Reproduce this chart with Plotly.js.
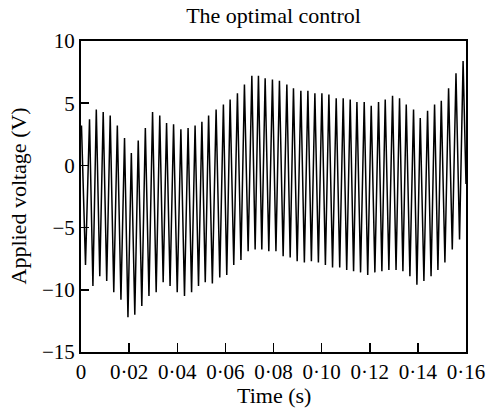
<!DOCTYPE html>
<html>
<head>
<meta charset="utf-8">
<script src="https://cdn.plot.ly/plotly-3.0.1.min.js"></script>
<style>html,body{margin:0;padding:0;background:#fff;}#chart{width:486px;height:408px;}</style>
</head>
<body>
<div id="chart"></div>
<script>
// Peak times (s) and values (V)
const peakTimes = [0.0002,0.00354,0.00636,0.00923,0.01214,0.01510,0.01809,0.02092,0.02379,0.02674,
  0.02974,0.03273,0.03556,0.03847,0.04151,0.04450,0.04741,0.05024,0.05303,0.05615,
  0.05918,0.06197,0.06501,0.06792,0.07100,0.07374,0.07653,0.07956,0.08247,0.08555,
  0.08830,0.09137,0.09429,0.09720,0.10011,0.10302,0.10606,0.10897,0.11188,0.11467,
  0.11770,0.12061,0.12365,0.12643,0.12947,0.13238,0.13517,0.13820,0.14099,0.14403,
  0.14694,0.14973,0.15276,0.15584,0.15879];
const peakValues = [3.2,3.7,4.5,4.3,4.0,3.2,2.2,1.0,2.0,3.0,
  4.3,4.0,3.4,3.3,2.9,3.0,3.2,3.5,4.0,4.5,
  4.9,5.3,5.8,6.5,7.2,7.2,7.0,6.9,6.8,6.5,
  6.2,6.0,6.0,5.8,5.8,5.7,5.4,5.4,5.3,5.1,
  5.1,4.8,5.1,5.3,5.6,5.4,4.9,4.5,3.8,4.4,
  4.9,5.2,6.2,7.4,8.4];
// Trough times (s) and values (V)
const troughTimes = [0.00187,0.00495,0.00780,0.01069,0.01362,0.01660,0.01951,0.02236,0.02527,0.02824,
  0.03124,0.03415,0.03702,0.03999,0.04301,0.04596,0.04883,0.05164,0.05459,0.05767,
  0.06058,0.06349,0.06647,0.06946,0.07237,0.07514,0.07805,0.08102,0.08401,0.08693,
  0.08984,0.09283,0.09575,0.09866,0.10157,0.10454,0.10752,0.11043,0.11328,0.11618,
  0.11916,0.12213,0.12504,0.12795,0.13093,0.13378,0.13669,0.13960,0.14251,0.14548,
  0.14833,0.15124,0.15430,0.15732];
const troughValues = [-8.0,-9.7,-8.9,-9.3,-10.2,-10.8,-12.2,-12.0,-11.3,-10.5,
  -10.2,-9.4,-9.7,-10.2,-10.5,-10.2,-9.7,-9.4,-9.5,-9.0,
  -8.8,-8.0,-7.6,-6.9,-6.75,-6.75,-6.9,-6.9,-7.3,-7.4,
  -7.7,-7.8,-7.7,-7.8,-8.0,-8.2,-8.2,-8.4,-8.5,-8.6,
  -8.8,-8.6,-8.5,-8.4,-8.4,-8.5,-8.9,-9.6,-9.3,-8.9,
  -8.4,-7.8,-6.75,-5.95];
const startPoint = {t: 0, v: 3.0};
const endPoint = {t: 0.16, v: -1.5};

const xTickVals = [0,0.02,0.04,0.06,0.08,0.10,0.12,0.14,0.16];
const xTickText = ['0','0·02','0·04','0·06','0·08','0·10','0·12','0·14','0·16'];
const yTickVals = [10,5,0,-5,-10,-15];
const yTickText = ['10','5','0','\u22125','\u221210','\u221215'];

// merge peaks & troughs in time order
const pts = [[startPoint.t, startPoint.v]];
for (let i = 0; i < peakTimes.length; i++) {
  pts.push([peakTimes[i], peakValues[i]]);
  if (i < troughTimes.length) pts.push([troughTimes[i], troughValues[i]]);
}
pts.push([endPoint.t, endPoint.v]);
pts.sort((a,b)=>a[0]-b[0]);

const fam = '"Liberation Serif", "Times New Roman", serif';
const f = s => ({family: fam, size: s, color: '#000'});

Plotly.newPlot('chart', [{
  x: pts.map(p=>p[0]), y: pts.map(p=>p[1]),
  type: 'scatter', mode: 'lines',
  line: {color: '#000', width: 1.5},
  hoverinfo: 'skip'
}], {
  width: 486, height: 408,
  margin: {l: 81, r: 20, t: 41, b: 56},
  paper_bgcolor: '#fff', plot_bgcolor: '#fff',
  showlegend: false,
  title: {text: 'The optimal control', font: f(22), x: 0.5, xanchor: 'center', xref: 'paper',
          y: 0.963, yanchor: 'middle', yref: 'container'},
  xaxis: {
    range: [0, 0.16], tickvals: xTickVals, ticktext: xTickText,
    showgrid: false, zeroline: false, showline: true, mirror: true,
    linecolor: '#000', linewidth: 2, ticks: 'inside', ticklen: 9, tickwidth: 1.5, tickcolor: '#000',
    tickfont: f(21), automargin: false
  },
  yaxis: {
    range: [-15, 10], tickvals: yTickVals, ticktext: yTickText,
    showgrid: false, zeroline: false, showline: true, mirror: true,
    linecolor: '#000', linewidth: 2, ticks: 'inside', ticklen: 8, tickwidth: 1.5, tickcolor: '#000',
    tickfont: f(21), automargin: false
  },
  annotations: [
    {text: 'Time (s)', font: f(22), xref: 'paper', yref: 'paper', x: 0.5, y: 0,
     xanchor: 'center', yanchor: 'middle', yshift: -43, showarrow: false},
    {text: 'Applied voltage (V)', font: f(22), xref: 'paper', yref: 'paper', x: 0, y: 0.5,
     xanchor: 'center', yanchor: 'middle', xshift: -63, textangle: -90, showarrow: false}
  ]
}, {displayModeBar: false, staticPlot: true});
</script>
</body>
</html>
